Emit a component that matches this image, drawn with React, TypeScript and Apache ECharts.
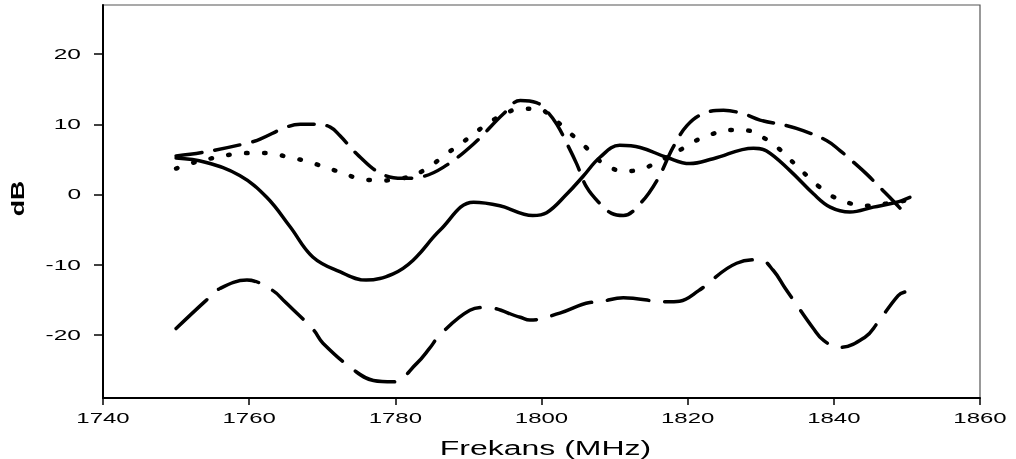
import React, { useEffect, useRef } from "react";
import * as echarts from "echarts";

const xTicks = [1740, 1760, 1780, 1800, 1820, 1840, 1860];
const yTicks = [-20, -10, 0, 10, 20];
const xName = "Frekans (MHz)";
const yName = "dB";

// solid line
const solidSeries: number[][] = [
  [1750, 5.2], [1754, 4.6], [1758.7, 2.7], [1762.4, -0.4], [1765.6, -4.6], [1768.7, -8.9],
  [1772.4, -11.0], [1776, -12.2], [1779.7, -11.3], [1782.4, -9.4], [1786.1, -5.1],
  [1790.7, -1.1], [1794.3, -1.6], [1798.8, -3.0], [1800.7, -2.6], [1803.5, 0.1],
  [1805.7, 2.6], [1808, 5.3], [1810.7, 7.0], [1813.5, 6.7], [1817.1, 5.3], [1820.3, 4.4],
  [1823.5, 5.1], [1829, 6.6], [1830.8, 6.2], [1834, 3.4], [1837.2, 0.1], [1839.5, -1.8],
  [1842.2, -2.5], [1845.4, -1.8], [1848.6, -1.1], [1850.4, -0.4],
];

// upper long-dash line
const dashSeries: number[][] = [
  [1750, 5.5], [1753.7, 6.0], [1759.7, 7.3], [1761.5, 7.9], [1765.1, 9.6], [1767, 10.0],
  [1769.2, 10.0], [1771.1, 9.6], [1772.4, 8.4], [1775, 5.5], [1778, 3.0], [1781, 2.3],
  [1783.5, 2.5], [1786.6, 3.9], [1790.7, 7.2], [1794.8, 11.5], [1797.1, 13.4],
  [1799.3, 13.1], [1800.7, 11.9], [1802.1, 10.0], [1803.5, 7.2], [1804.8, 4.4],
  [1806.2, 1.0], [1808, -1.3], [1809.6, -2.7], [1811.2, -3.0], [1813.5, -1.3],
  [1815.8, 2.0], [1818, 6.7], [1819.9, 9.8], [1822.1, 11.5], [1824.9, 12.0],
  [1827.6, 11.5], [1829.9, 10.6], [1833.6, 9.8], [1835.8, 9.1], [1839, 7.7],
  [1840.8, 6.3], [1842.7, 4.6], [1844.5, 2.9], [1846.3, 1.0], [1848.1, -0.9], [1850, -3.0],
];

// dotted line
const dotSeries: number[][] = [
  [1750, 3.7], [1752.6, 4.6], [1755.1, 5.2], [1757.6, 5.7], [1760.1, 5.9], [1762.6, 5.9],
  [1765.1, 5.4], [1767.6, 4.8], [1770.1, 4.0], [1772.4, 3.2], [1775, 2.3], [1778, 2.0],
  [1781, 2.3], [1784, 3.5], [1787, 5.8], [1788.9, 7.2], [1790.7, 8.6], [1792.5, 10.0],
  [1794.8, 11.4], [1797.1, 12.2], [1799.6, 12.2], [1801.2, 11.2], [1803, 9.6],
  [1804.6, 8.1], [1806, 6.8], [1807.3, 5.4], [1808.9, 4.1], [1811.4, 3.3], [1813.9, 3.7],
  [1816.2, 4.8], [1818.9, 6.3], [1820.8, 7.5], [1823.3, 8.6], [1825.8, 9.2], [1828.3, 9.1],
  [1830.7, 7.9], [1832.4, 6.6], [1833.8, 5.2], [1835.1, 3.9], [1836.5, 2.5], [1838, 1.1],
  [1839.7, -0.2], [1842, -1.2], [1844.5, -1.6], [1847.2, -1.3], [1849.7, -0.9],
];

// lower long-dash line
const lowSeries: number[][] = [
  [1750, -19.1], [1754, -15.2], [1756, -13.4], [1759.7, -12.2], [1763.1, -13.6],
  [1764.9, -15.3], [1768.8, -19.3], [1770.1, -21.2], [1774.3, -25.0], [1777, -26.5],
  [1779.7, -26.7], [1782.9, -24.1], [1784.7, -21.9], [1786.1, -20.0], [1790.2, -16.5],
  [1792.3, -16.1], [1797.1, -17.5], [1798.4, -17.9], [1802.5, -16.9], [1806.6, -15.4],
  [1808, -15.3], [1811.2, -14.7], [1817.1, -15.3], [1818.9, -15.2], [1821.5, -13.7],
  [1826.7, -9.8], [1829.9, -9.3], [1831.7, -10.8], [1833.3, -13.3], [1834.5, -15.1],
  [1837.2, -19.1], [1838.6, -20.8], [1840.8, -21.8], [1844.3, -20.3], [1845.9, -18.4],
  [1848.8, -14.4], [1849.7, -13.9],
];

const FONT = "'Liberation Sans', Arial, sans-serif";

export default function App() {
  const ref = useRef<HTMLDivElement>(null);
  useEffect(() => {
    const chart = echarts.init(ref.current!, null, { renderer: "svg" });
    const mk = (name: string, data: number[][], type: any, width: number) => ({
      type: "line",
      name,
      data,
      smooth: 0.4,
      symbol: "none",
      lineStyle: { color: "#000", width, type, cap: "round", join: "round" },
    });
    chart.setOption({
      animation: false,
      grid: { left: 103, right: 36, top: 5, bottom: 61, show: true, borderColor: "#555", borderWidth: 1.2 },
      xAxis: {
        type: "value",
        min: 1740,
        max: 1860,
        interval: 20,
        axisLine: { show: true, onZero: false, lineStyle: { color: "#000", width: 2 } },
        axisTick: { show: true, length: 7, lineStyle: { color: "#000", width: 1.5 } },
        axisLabel: { show: false },
        splitLine: { show: false },
      },
      yAxis: {
        type: "value",
        min: -29,
        max: 27,
        axisLine: { show: true, onZero: false, lineStyle: { color: "#000", width: 2 } },
        axisTick: { show: true, length: 9, customValues: yTicks, lineStyle: { color: "#000", width: 1.5 } },
        axisLabel: { show: false, customValues: yTicks },
        splitLine: { show: false },
      },
      series: [
        mk("solid", solidSeries, "solid", 3.5),
        mk("dash", dashSeries, [26, 13], 3.5),
        mk("dot", dotSeries, [1.5, 16.5], 4.5),
        mk("low", lowSeries, [42, 16], 3.5),
      ],
    });

    const g: any[] = [];
    xTicks.forEach((v) => {
      const p = chart.convertToPixel({ gridIndex: 0 }, [v, -29]) as number[];
      g.push({
        type: "text",
        x: p[0],
        y: p[1] + 20,
        scaleX: 1.6,
        style: { text: String(v), fontSize: 15, fontFamily: FONT, fill: "#000", align: "center", verticalAlign: "middle" },
      });
    });
    yTicks.forEach((v) => {
      const p = chart.convertToPixel({ gridIndex: 0 }, [1740, v]) as number[];
      g.push({
        type: "text",
        x: p[0] - 22,
        y: p[1],
        scaleX: 1.75,
        style: { text: String(v), fontSize: 14, fontFamily: FONT, fill: "#000", align: "right", verticalAlign: "middle" },
      });
    });
    const c = chart.convertToPixel({ gridIndex: 0 }, [1800, -29]) as number[];
    g.push({
      type: "text",
      x: c[0] + 4,
      y: c[1] + 50,
      scaleX: 1.6,
      style: { text: xName, fontSize: 20, fontFamily: FONT, fill: "#000", align: "center", verticalAlign: "middle" },
    });
    const m = chart.convertToPixel({ gridIndex: 0 }, [1740, -1]) as number[];
    g.push({
      type: "text",
      x: 17,
      y: m[1] - 3,
      rotation: Math.PI / 2,
      scaleX: 1.4,
      style: { text: yName, fontSize: 19, fontWeight: "bold", fontFamily: FONT, fill: "#000", align: "center", verticalAlign: "middle" },
    });
    chart.setOption({ graphic: g });

    return () => chart.dispose();
  }, []);
  return <div ref={ref} style={{ position: "fixed", left: 0, top: 0, width: 1016, height: 459 }} />;
}
